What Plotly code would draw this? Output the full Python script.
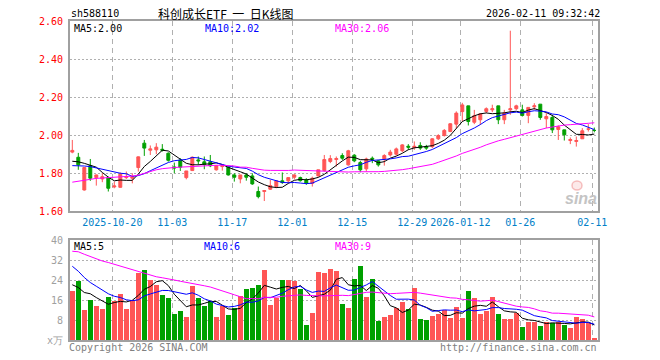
import numpy as np
import pandas as pd
import plotly.graph_objects as go

# ---------------- data ----------------
opens = [1.911, 1.884, 1.712, 1.840, 1.777, 1.770, 1.777, 1.728, 1.726, 1.777,
         1.774, 1.830, 1.958, 1.921, 1.923, 1.926, 1.905, 1.833, 1.870, 1.777,
         1.814, 1.870, 1.860, 1.860, 1.818, 1.835, 1.832, 1.791, 1.770, 1.791,
         1.786, 1.704, 1.704, 1.716, 1.730, 1.760, 1.760, 1.779, 1.777, 1.765,
         1.747, 1.786, 1.814, 1.862, 1.872, 1.893, 1.844, 1.895, 1.856, 1.823,
         1.879, 1.865, 1.875, 1.896, 1.900, 1.918, 1.942, 1.935, 1.946, 1.940,
         1.940, 1.981, 1.998, 2.019, 2.058, 2.124, 2.154, 2.068, 2.081, 2.125,
         2.133, 2.154, 2.081, 2.133, 2.139, 2.133, 2.104, 2.149, 2.163, 2.086,
         2.093, 2.030, 2.028, 1.972, 1.967, 1.981, 2.032, 2.025]
highs = [1.975, 1.907, 1.832, 1.875, 1.793, 1.800, 1.782, 1.756, 1.804, 1.809,
         1.800, 1.888, 1.975, 1.946, 1.958, 1.953, 1.910, 1.856, 1.879, 1.812,
         1.888, 1.888, 1.888, 1.896, 1.840, 1.844, 1.835, 1.800, 1.791, 1.800,
         1.800, 1.730, 1.712, 1.765, 1.760, 1.804, 1.777, 1.795, 1.782, 1.774,
         1.782, 1.818, 1.896, 1.895, 1.888, 1.905, 1.923, 1.900, 1.865, 1.882,
         1.888, 1.870, 1.900, 1.923, 1.935, 1.953, 1.953, 1.967, 1.963, 1.949,
         1.984, 2.005, 2.032, 2.063, 2.125, 2.170, 2.154, 2.133, 2.116, 2.146,
         2.160, 2.154, 2.133, 2.549, 2.160, 2.160, 2.146, 2.168, 2.163, 2.116,
         2.107, 2.051, 2.028, 1.988, 1.993, 2.037, 2.058, 2.040]
lows = [1.905, 1.818, 1.709, 1.760, 1.735, 1.753, 1.704, 1.721, 1.725, 1.770,
        1.747, 1.809, 1.891, 1.896, 1.900, 1.914, 1.861, 1.800, 1.812, 1.768,
        1.812, 1.844, 1.821, 1.832, 1.814, 1.814, 1.788, 1.756, 1.747, 1.761,
        1.739, 1.668, 1.654, 1.712, 1.721, 1.744, 1.747, 1.768, 1.756, 1.739,
        1.730, 1.782, 1.809, 1.853, 1.835, 1.870, 1.840, 1.858, 1.805, 1.809,
        1.853, 1.835, 1.840, 1.888, 1.893, 1.911, 1.923, 1.923, 1.923, 1.923,
        1.932, 1.975, 1.993, 2.016, 2.037, 2.072, 2.051, 2.058, 2.054, 2.116,
        2.121, 2.058, 2.058, 2.107, 2.133, 2.098, 2.063, 2.133, 2.081, 2.037,
        2.011, 1.975, 1.972, 1.953, 1.940, 1.981, 2.019, 2.015]
closes = [1.920, 1.844, 1.830, 1.774, 1.791, 1.782, 1.721, 1.733, 1.795, 1.782,
          1.782, 1.886, 1.932, 1.928, 1.937, 1.921, 1.868, 1.828, 1.832, 1.812,
          1.884, 1.865, 1.846, 1.839, 1.839, 1.839, 1.791, 1.779, 1.791, 1.779,
          1.744, 1.677, 1.709, 1.735, 1.760, 1.751, 1.777, 1.791, 1.761, 1.747,
          1.774, 1.818, 1.872, 1.877, 1.877, 1.879, 1.918, 1.865, 1.818, 1.875,
          1.874, 1.844, 1.893, 1.911, 1.928, 1.949, 1.937, 1.942, 1.932, 1.932,
          1.981, 1.998, 2.025, 2.060, 2.116, 2.159, 2.072, 2.102, 2.112, 2.139,
          2.139, 2.081, 2.116, 2.139, 2.154, 2.104, 2.146, 2.154, 2.093, 2.098,
          2.028, 2.044, 2.002, 1.977, 1.972, 2.023, 2.032, 2.025]
volumes = [19.5, 23.5, 12.1, 16.1, 13.7, 12.5, 17.1, 15.5, 18.5, 12.5,
           15.9, 26.7, 27.9, 23.9, 22.1, 18.1, 16.9, 10.5, 11.7, 9.3,
           21.7, 16.9, 13.7, 15.5, 9.3, 13.5, 10.1, 12.8, 17.7, 20.5,
           20.9, 22.1, 28.1, 14.1, 16.8, 24.1, 24.1, 23.7, 20.4, 6.1,
           10.9, 27.3, 26.9, 28.5, 27.7, 14.5, 12.9, 24.5, 29.7, 17.3,
           24.5, 7.5, 9.3, 10.1, 12.8, 15.3, 12.5, 20.9, 8.5, 8.1,
           9.7, 10.5, 12.1, 8.9, 13.3, 8.9, 19.7, 16.9, 10.5, 11.5,
           17.3, 10.5, 8.5, 8.5, 10.7, 5.3, 7.3, 7.3, 5.7, 7.3,
           6.7, 7.3, 6.1, 4.9, 9.3, 8.5, 6.9, 0.5]

# moving-average values at the left edge (window extends before the chart)
ma5_head = [1.863, 1.860, 1.852, 1.842]
ma10_head = [1.840, 1.840, 1.838, 1.835, 1.828, 1.820, 1.812, 1.806, 1.800]
ma30_head = [1.753, 1.757, 1.762, 1.768, 1.773, 1.775, 1.776, 1.777, 1.779, 1.782,
             1.785, 1.790, 1.800, 1.810, 1.818, 1.824, 1.828, 1.830, 1.832, 1.834,
             1.836, 1.838, 1.840, 1.841, 1.842, 1.842, 1.841, 1.838, 1.832]
vma5_head = [22.1, 21.0, 19.0, 18.5]
vma10_head = [29.5, 27.5, 25.0, 23.0, 21.5, 20.0, 18.5, 17.5, 17.0]
vma30_head = [35.5, 35.3, 34.3, 33.3, 32.3, 31.6, 31.0, 30.3, 29.6, 28.6,
              28.0, 27.3, 26.5, 25.9, 25.3, 24.9, 24.6, 24.0, 23.5, 23.1,
              22.8, 22.3, 21.7, 21.2, 20.5, 19.7, 18.9, 18.1, 17.3]

date_idx = [7, 17, 27, 37, 47, 57, 65, 75, 87]
date_text = ["2025-10-20", "11-03", "11-17", "12-01", "12-15", "12-29",
             "2026-01-12", "01-26", "02-11"]
price_ticks = [1.60, 1.80, 2.00, 2.20, 2.40, 2.60]
vol_ticks = [0, 8, 16, 24, 32, 40]
vol_ticktext = ["x万", "8", "16", "24", "32", "40"]


def moving(vals, n, head):
    out = pd.Series(vals, dtype=float).rolling(n).mean().to_numpy()
    out[:n - 1] = head
    return out


x = np.arange(len(closes))
ma5 = moving(closes, 5, ma5_head)
ma10 = moving(closes, 10, ma10_head)
ma30 = moving(closes, 30, ma30_head)
vma5 = moving(volumes, 5, vma5_head)
vma10 = moving(volumes, 10, vma10_head)
vma30 = moving(volumes, 30, vma30_head)

RED = "#ff5555"
GREEN = "#00a000"
vol_colors = [RED if c >= o else GREEN for o, c in zip(opens, closes)]

# ---------------- layout geometry (page pixels; body margin removed) ----------------
W, H = 660, 360
PL, PR, PT, PB = 70, 598, 21, 340          # plot box in page pixels
L, R, T, B = PL, W - PR, PT, H - PB
PW, PH = W - L - R, H - T - B
x0 = -(72.3 - PL) / 6.0
xrange_ = [x0, x0 + PW / 6.0]


def ax(px):
    return (px - PL) / PW


def ay(py):
    return (PB - py) / PH


MONO = "DejaVu Sans Mono"
GRIDC = "#b0b0b0"
LINEC = "#a0a0a0"

fig = go.Figure()
fig.add_trace(go.Candlestick(
    x=x, open=opens, high=highs, low=lows, close=closes,
    increasing=dict(line=dict(color=RED, width=1), fillcolor=RED),
    decreasing=dict(line=dict(color=GREEN, width=1), fillcolor=GREEN),
    whiskerwidth=0, xaxis="x", yaxis="y", hoverinfo="skip"))
for vals, col in [(ma5, "#000000"), (ma10, "#0000ff"), (ma30, "#ff00ff")]:
    fig.add_trace(go.Scatter(x=x, y=vals, mode="lines",
                             line=dict(color=col, width=1),
                             xaxis="x", yaxis="y", hoverinfo="skip"))
fig.add_trace(go.Bar(x=x, y=volumes, marker=dict(color=vol_colors, line=dict(width=0)),
                     width=0.78, xaxis="x2", yaxis="y2", hoverinfo="skip"))
for vals, col in [(vma5, "#000000"), (vma10, "#0000ff"), (vma30, "#ff00ff")]:
    fig.add_trace(go.Scatter(x=x, y=vals, mode="lines",
                             line=dict(color=col, width=1),
                             xaxis="x2", yaxis="y2", hoverinfo="skip"))

tickpos = [i - 0.33 for i in date_idx]
common_x = dict(range=xrange_, tickmode="array", tickvals=tickpos,
                showgrid=True, gridcolor=GRIDC, gridwidth=1, griddash="5px,4px",
                showline=True, mirror=True, linecolor=LINEC, linewidth=2,
                zeroline=False, ticks="", tickangle=0, fixedrange=True)

fig.update_layout(
    width=W, height=H, margin=dict(l=L, r=R, t=T, b=B, autoexpand=False),
    paper_bgcolor="white", plot_bgcolor="white", showlegend=False,
    bargap=0,
    xaxis=dict(**common_x, ticktext=date_text, domain=[0, 1], anchor="y",
               rangeslider=dict(visible=False),
               tickfont=dict(family=MONO, size=10, color="#0080c8"),
               ticklabelstandoff=1),
    yaxis=dict(domain=[ay(211.3), 1], range=[1.60, 2.60], anchor="x",
               tickmode="array", tickvals=price_ticks,
               ticktext=[f"{v:.2f}" for v in price_ticks],
               tickfont=dict(family=MONO, size=10, color="#ff0000"),
               showgrid=True, gridcolor=GRIDC, griddash="2px,2px",
               showline=True, mirror=True, linecolor=LINEC, linewidth=2,
               zeroline=False, ticks="", ticklabelstandoff=3, fixedrange=True),
    xaxis2=dict(**common_x, ticktext=[""] * len(tickpos), showticklabels=False,
                domain=[0, 1], anchor="y2"),
    yaxis2=dict(domain=[0, ay(240)], range=[0, 40], anchor="x2",
                tickmode="array", tickvals=vol_ticks, ticktext=vol_ticktext,
                tickfont=dict(family=MONO, size=10, color="#a0a0a0"),
                showgrid=True, gridcolor=GRIDC, griddash="2px,2px",
                showline=True, mirror=True, linecolor=LINEC, linewidth=2,
                zeroline=False, ticks="", ticklabelstandoff=3, fixedrange=True),
)

NB = "\u00a0"
ann = [
    dict(text="sh588110", x=ax(70), y=ay(13), xanchor="left",
         font=dict(family=MONO, size=10, color="#000000")),
    dict(text="科创成长ETF" + NB * 2 + "一" + NB * 2 + "日K线图", x=ax(225), y=ay(13),
         xanchor="center",
         font=dict(family="Noto Sans CJK SC", size=12, color="#000000")),
    dict(text="2026-02-11 09:32:42", x=ax(601), y=ay(13), xanchor="right",
         font=dict(family=MONO, size=10, color="#000000")),
    dict(text="MA5:2.00", x=ax(73), y=ay(28), xanchor="left",
         font=dict(family=MONO, size=10, color="#000000")),
    dict(text="MA10:2.02", x=ax(204), y=ay(28), xanchor="left",
         font=dict(family=MONO, size=10, color="#0000ff")),
    dict(text="MA30:2.06", x=ax(334), y=ay(28), xanchor="left",
         font=dict(family=MONO, size=10, color="#ff00ff")),
    dict(text="MA5:5", x=ax(73), y=ay(246), xanchor="left",
         font=dict(family=MONO, size=10, color="#000000")),
    dict(text="MA10:6", x=ax(203), y=ay(246), xanchor="left",
         font=dict(family=MONO, size=10, color="#0000ff")),
    dict(text="MA30:9", x=ax(334), y=ay(246), xanchor="left",
         font=dict(family=MONO, size=10, color="#ff00ff")),
    dict(text="Copyright 2026 SINA.COM", x=ax(68), y=ay(347), xanchor="left",
         font=dict(family=MONO, size=10, color="#808080")),
    dict(text="http://finance.sina.com.cn", x=ax(598), y=ay(347), xanchor="right",
         font=dict(family=MONO, size=10, color="#808080")),
    dict(text="<b><i>sina</i></b>", x=ax(581), y=ay(198), xanchor="center",
         font=dict(family="Liberation Sans", size=16, color="#c4c4c4")),
]
for a in ann:
    a.update(xref="paper", yref="paper", yanchor="middle", showarrow=False,
             borderpad=0)
fig.update_layout(annotations=ann)
fig.add_shape(type="circle", xref="paper", yref="paper",
              x0=ax(572), x1=ax(582), y0=ay(190), y1=ay(181),
              line=dict(color="rgba(235,120,120,0.45)", width=1.5),
              fillcolor="rgba(245,170,170,0.25)")

fig.write_html("out.html", config={"displayModeBar": False},
               post_script="document.body.style.margin='0';")
